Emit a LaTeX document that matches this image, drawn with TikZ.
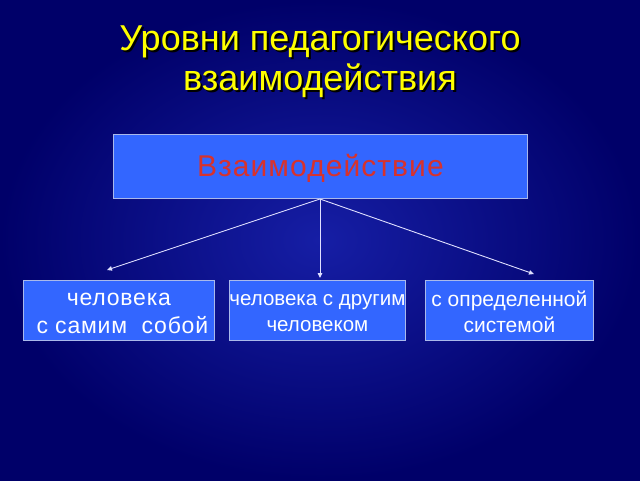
\documentclass[tikz,border=0pt]{standalone}
\usepackage{fontspec}
\setmainfont{Liberation Sans}
\usetikzlibrary{arrows.meta,shadings}
\definecolor{bgin}{RGB}{22,30,165}
\definecolor{bgout}{RGB}{0,0,105}
\definecolor{boxfill}{RGB}{51,102,255}
\definecolor{boxline}{RGB}{170,185,235}
\definecolor{titley}{RGB}{255,255,0}
\definecolor{redtxt}{RGB}{215,50,45}
\newcommand\shadowtxt[1]{\makebox[0pt][l]{\kern2pt\raisebox{-2pt}{\textcolor{black}{#1}}}#1}
\tikzset{
  levelbox/.style={draw=boxline, line width=0.8pt, fill=boxfill, inner sep=0pt, anchor=north west},
  conn/.style={draw=white!88!blue, line width=0.9pt, -{Triangle[length=5pt,width=4.5pt]}},
  titletxt/.style={text=titley, font=\fontsize{36}{40}\selectfont, align=center},
  btxt/.style={text=white, align=center}
}
\begin{document}
\begin{tikzpicture}[x=1pt,y=-1pt]
\useasboundingbox (0,0) rectangle (640,480);
\shade[inner color=bgin, outer color=bgout] (0,0) rectangle (640,480);
% title with shadow
\node[titletxt] (title) at (320,63) {\shadowtxt{Уровни педагогического}\\\shadowtxt{взаимодействия}};
% boxes
\node[levelbox, minimum width=414pt, minimum height=64pt] (top) at (113,134) {};
\node[text=redtxt, font=\fontsize{30}{34}\selectfont\addfontfeatures{LetterSpace=3.5}] at ([yshift=-2pt]top.center) {Взаимодействие};
\node[levelbox, minimum width=191pt, minimum height=60pt] (b1) at (23,280) {};
\node[btxt, font=\fontsize{23}{28}\selectfont\addfontfeatures{LetterSpace=3.5}] at ([yshift=-3pt]b1.center) {человека\\\hspace*{0.3em}с самим\ \ собой};
\node[levelbox, minimum width=176pt, minimum height=60pt] (b2) at (229,280) {};
\node[btxt, font=\fontsize{20.5}{26}\selectfont] at ([yshift=-3pt]b2.center) {человека с другим\\человеком};
\node[levelbox, minimum width=168pt, minimum height=60pt] (b3) at (425,280) {};
\node[btxt, font=\fontsize{21}{26}\selectfont] at ([yshift=-1pt]b3.center) {с определенной\\системой};
% connectors
\coordinate (src) at (320,199);
\coordinate (e1) at (107,270);
\coordinate (e2) at (320,278);
\coordinate (e3) at (534,274);
\draw[conn] (src) -- (e1);
\draw[conn] (src) -- (e2);
\draw[conn] (src) -- (e3);
\end{tikzpicture}
\end{document}
